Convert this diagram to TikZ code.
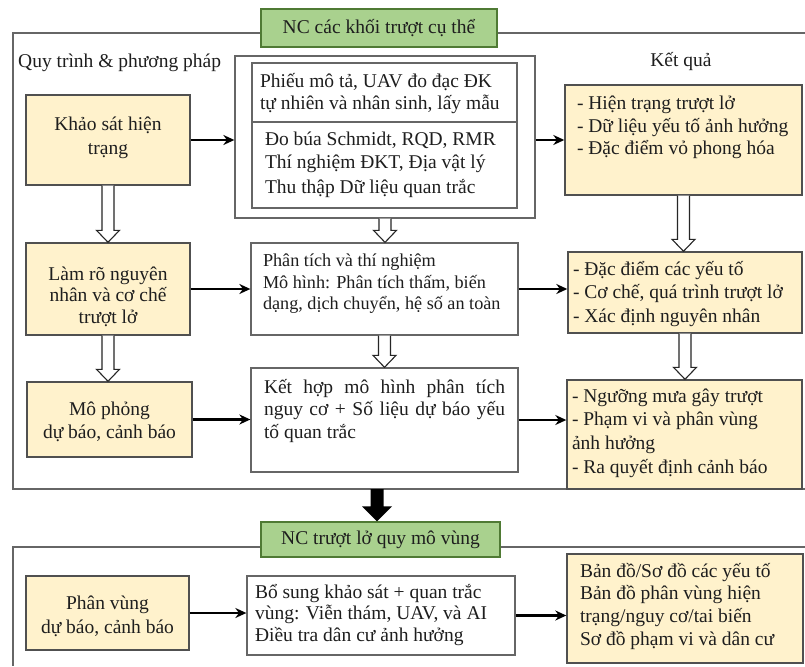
\documentclass[tikz,border=0pt]{standalone}
\usepackage{fontspec}
\setmainfont{Liberation Serif}
\usetikzlibrary{arrows.meta,calc}
\definecolor{yel}{HTML}{FFF2CC}
\definecolor{grn}{HTML}{A9D18E}
\definecolor{grnb}{HTML}{4F7A34}
\definecolor{bord}{HTML}{505050}
\definecolor{frm}{HTML}{666666}
\definecolor{txt}{HTML}{1E1E1E}
% box text: #1 height, #2 width, #3 first baseline below top, #4 text, #5 setup
\newcommand\tb[5]{\parbox[c][#1][t]{#2}{#5\rule{0pt}{#3}\ignorespaces #4}}
\newcommand\Lft[2]{\fontsize{19.5}{#1}\selectfont\raggedright\leftskip=#2\relax}
\newcommand\Ctr[1]{\fontsize{19.5}{#1}\selectfont\centering}
\newcommand\hollowdown[2]{%
  \draw[hollow] let \p1=(#1), \p2=(#2) in
    (\x1-6pt,\y1) -- (\x1-6pt,\y2+12pt) -- (\x1-11.5pt,\y2+12pt) -- (\x1,\y2)
    -- (\x1+11.5pt,\y2+12pt) -- (\x1+6pt,\y2+12pt) -- (\x1+6pt,\y1);}
\begin{document}
\begin{tikzpicture}[x=1pt,y=-1pt,
  every node/.style={font=\fontsize{19.5}{23}\selectfont, text=txt},
  ybox/.style={draw=bord, line width=1.4pt, fill=yel, inner sep=0pt},
  wbox/.style={draw=frm, line width=1.3pt, fill=white, inner sep=0pt},
  gbox/.style={draw=grnb, line width=1.4pt, fill=grn, inner sep=0pt},
  frame/.style={draw=frm, line width=1.6pt},
  conn/.style={line width=2.6pt, -{Stealth[length=11pt,width=10pt]}},
  hollow/.style={draw=black!85, line width=1.1pt, fill=white},
]
\useasboundingbox (0,0) rectangle (805,666);
\fill[white] (0,0) rectangle (805,666);

% frames
\draw[frame] (805,33) -- (13,33) -- (13,489) -- (805,489);
\draw[frame] (805,547) -- (13,547) -- (13,666);
\coordinate (fb) at (377,489);

% green headers
\node[gbox, minimum width=236pt, minimum height=38pt] (g1) at (379,28) {NC các khối trượt cụ thể};
\node[gbox, minimum width=239pt, minimum height=35pt] (g2) at (380.5,539.5) {NC trượt lở quy mô vùng};

% column labels
\node[anchor=west, inner sep=0pt] (lq) at (18,63) {Quy trình \& phương pháp};
\node[inner sep=0pt] (lk) at (681,62) {Kết quả};

% left column
\node[ybox] (k1) at (108,140)
  {\tb{90pt}{164pt}{35pt}{Khảo sát hiện\\trạng}{\Ctr{25}}};
\node[ybox] (k2) at (108,289)
  {\tb{92pt}{164pt}{37pt}{Làm rõ nguyên\\nhân và cơ chế\\trượt lở}{\Ctr{21.5}}};
\node[ybox] (k3) at (109.5,419.5)
  {\tb{75pt}{165pt}{33pt}{Mô phỏng\\dự báo, cảnh báo}{\Ctr{23}}};
\node[ybox] (k4) at (107.5,613)
  {\tb{74pt}{163pt}{33pt}{Phân vùng\\dự báo, cảnh báo}{\Ctr{24}}};

% middle column
\node[wbox, minimum width=300pt, minimum height=162pt] (mo) at (385,137) {};
\node[wbox] (mi1) at (384.5,92.5)
  {\tb{59pt}{265pt}{25pt}{Phiếu mô tả, UAV đo đạc ĐK\\tự nhiên và nhân sinh, lấy mẫu}{\Lft{22}{8pt}}};
\node[wbox] (mi2) at (384.5,165)
  {\tb{86pt}{265pt}{23pt}{Đo búa Schmidt, RQD, RMR\\Thí nghiệm ĐKT, Địa vật lý\\Thu thập Dữ liệu quan trắc}{\Lft{24}{13pt}}};
\node[wbox] (m2) at (384.5,289)
  {\tb{92pt}{267pt}{23.5pt}{Phân tích và thí nghiệm\\Mô hình: Phân tích thấm, biến\\dạng, dịch chuyển, hệ số an toàn}{\fontsize{18.2}{21.5}\selectfont\raggedright\leftskip=12pt\relax}};
\node[wbox] (m3) at (384.5,420)
  {\tb{104pt}{267pt}{25pt}{Kết hợp mô hình phân tích\linebreak nguy cơ + Số liệu dự báo yếu\linebreak tố quan trắc}{\fontsize{19.5}{22.5}\selectfont\leftskip=13pt\rightskip=13pt\relax}};
\node[wbox] (m4) at (381,615.5)
  {\tb{79pt}{268pt}{22pt}{Bổ sung khảo sát + quan trắc\\vùng: Viễn thám, UAV, và AI\\Điều tra dân cư ảnh hưởng}{\Lft{21.5}{8pt}}};

% right column
\node[ybox] (r1) at (683.5,140)
  {\tb{110pt}{237pt}{25pt}{- Hiện trạng trượt lở\\- Dữ liệu yếu tố ảnh hưởng\\- Đặc điểm vỏ phong hóa}{\Lft{22.5}{12pt}}};
\node[ybox] (r2) at (685,292.5)
  {\tb{81pt}{234pt}{23pt}{- Đặc điểm các yếu tố\\- Cơ chế, quá trình trượt lở\\- Xác định nguyên nhân}{\Lft{23.5}{5pt}}};
\node[ybox] (r3) at (684.5,434.5)
  {\tb{109pt}{235pt}{22pt}{- Ngưỡng mưa gây trượt\\- Phạm vi và phân vùng\\ảnh hưởng\\- Ra quyết định cảnh báo}{\Lft{23.7}{5pt}}};
\node[ybox] (r4) at (685,608.5)
  {\tb{109pt}{236pt}{23pt}{Bản đồ/Sơ đồ các yếu tố\\Bản đồ phân vùng hiện\\trạng/nguy cơ/tai biến\\Sơ đồ phạm vi và dân cư}{\Lft{22.7}{13pt}}};

% horizontal connectors
\draw[conn] (k1.east) -- (k1.east -| mo.west);
\draw[conn] (r1.west -| mo.east) -- (r1.west);
\draw[conn] (k2.east) -- (k2.east -| m2.west);
\draw[conn] (m2.east) -- (m2.east -| r2.west);
\draw[conn] (k3.east) -- (k3.east -| m3.west);
\draw[conn] (m3.east) -- (m3.east -| r3.west);
\draw[conn] (k4.east) -- (k4.east -| m4.west);
\draw[conn] (m4.east) -- (m4.east -| r4.west);

% hollow down arrows
\hollowdown{k1.south}{k2.north}
\hollowdown{k2.south}{k3.north}
\hollowdown{mo.south}{m2.north}
\hollowdown{m2.south}{m3.north}
\hollowdown{r1.south}{r2.north}
\hollowdown{r2.south}{r3.north}

% big black arrow between stages
\fill[black] let \p1=(fb), \p2=(g2.north -| fb) in
  (\x1-6.5pt,\y1) -- (\x1-6.5pt,\y2+15pt) -- (\x1-15pt,\y2+15pt) -- (\x1,\y2)
  -- (\x1+15pt,\y2+15pt) -- (\x1+6.5pt,\y2+15pt) -- (\x1+6.5pt,\y1) -- cycle;
\end{tikzpicture}
\end{document}
